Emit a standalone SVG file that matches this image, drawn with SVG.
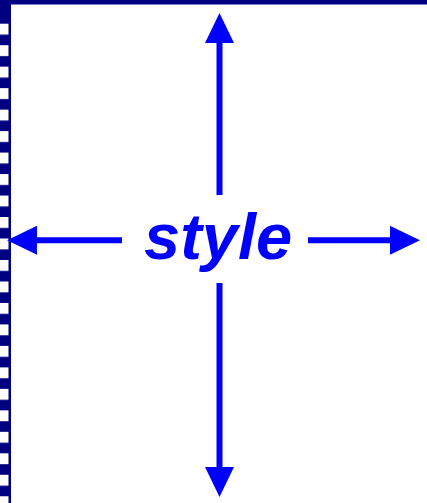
<svg xmlns="http://www.w3.org/2000/svg" width="427" height="503" viewBox="0 0 427 503">
  <style>
    .conn { stroke: #0000ff; stroke-width: 6; fill: none; }
    .label { font-family: "Liberation Sans", Arial, sans-serif; font-weight: bold; font-style: italic; font-size: 65px; fill: #0000ff; }
  </style>
  <defs>
    <marker id="head" markerUnits="userSpaceOnUse" markerWidth="31" markerHeight="30" refX="0" refY="14.5" orient="auto" viewBox="0 0 31 30">
      <path d="M0,0 L30,14.5 L0,29 Z" fill="#0000ff"/>
    </marker>
    <pattern id="checker" patternUnits="userSpaceOnUse" x="0" y="2.22" width="11" height="21.48">
      <rect x="0" y="0" width="8.7" height="10.9" fill="#ffffff"/>
    </pattern>
  </defs>
  <rect width="427" height="503" fill="#ffffff"/>
  <g id="frame">
    <rect x="0" y="0" width="11" height="503" fill="#000080"/>
    <rect x="0" y="20" width="8.7" height="483" fill="url(#checker)"/>
    <rect x="0" y="0" width="427" height="4" fill="#000080"/>
    <rect x="11" y="4" width="416" height="1" fill="#8080c8"/>
  </g>
  <g id="connectors">
    <path class="conn" d="M219.5,195 L219.5,43" marker-end="url(#head)"/>
    <path class="conn" d="M219.5,283 L219.5,467" marker-end="url(#head)"/>
    <path class="conn" d="M122,240.3 L37,240.3" marker-end="url(#head)"/>
    <path class="conn" d="M308,240.3 L390,240.3" marker-end="url(#head)"/>
  </g>
  <g id="node-style">
    <text class="label" x="144" y="259">style</text>
  </g>
</svg>
